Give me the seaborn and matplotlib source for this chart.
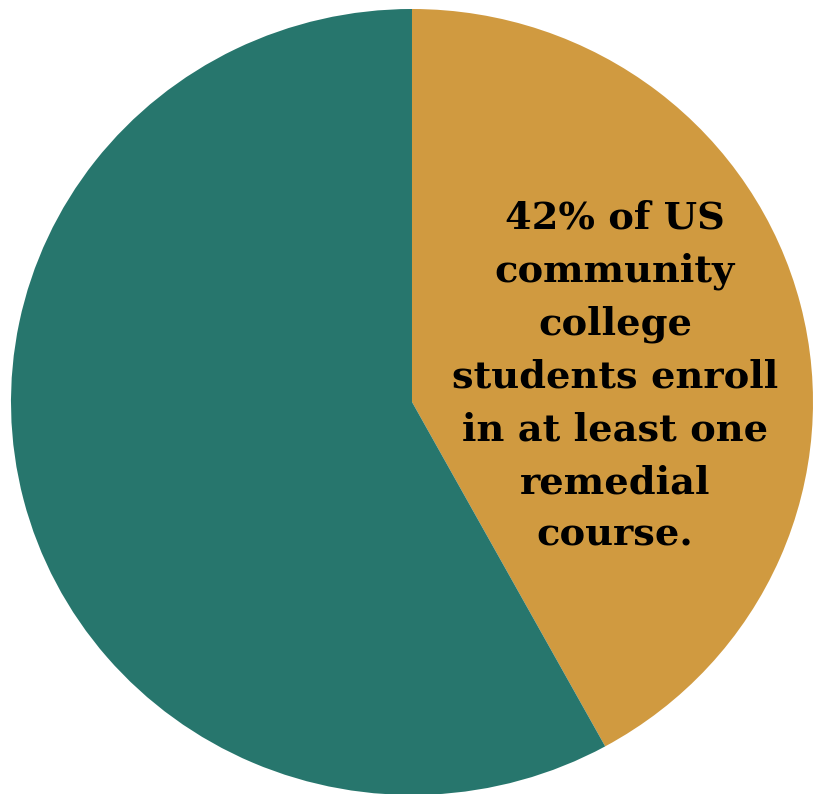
import matplotlib
matplotlib.use('Agg')
import matplotlib.pyplot as plt
import seaborn as sns

# Data
labels = ['Remedial', 'Other']
shares = [42, 58]
colors = ['#D09A40', '#27766D']
note = "42% of US\ncommunity\ncollege\nstudents enroll\nin at least one\nremedial\ncourse."

sns.set_theme(style='white')

fig = plt.figure(figsize=(8.13, 7.94), dpi=100)
ax = fig.add_axes([0.0, 0.0, 1.0, 1.0])
ax.pie(shares, colors=colors, startangle=90, counterclock=False,
       wedgeprops=dict(linewidth=0), radius=1.0)
# pie in the reference is a touch wider than tall
ax.set_aspect('auto')
ax.set_xlim(-1.0274, 1.0)
ax.set_ylim(-0.9975, 1.0229)
ax.axis('off')

ax.text(0.506, 0.064, note, ha='center', va='center', fontsize=27.6,
        fontweight='bold', family='DejaVu Serif', linespacing=1.54,
        color='black')

fig.savefig('out.png', dpi=100)
